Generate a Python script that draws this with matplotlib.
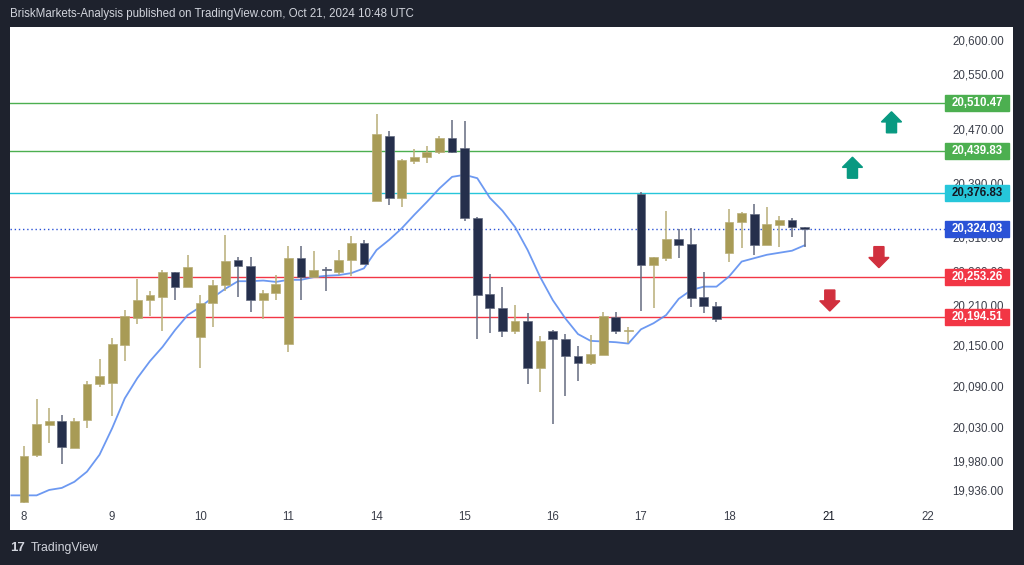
import matplotlib
matplotlib.use("Agg")
import matplotlib.pyplot as plt
import matplotlib.transforms as mtransforms
from matplotlib.patches import Rectangle, Polygon

# ── Data ──────────────────────────────────────────────────────────────────────
opens = [19921, 19990, 20035, 20041, 20001, 20042, 20095, 20097, 20153, 20192,
         20219, 20224, 20260, 20239, 20164, 20215, 20241, 20279, 20270, 20219,
         20229, 20155, 20281, 20253, 20264, 20260, 20278, 20303, 20366, 20462,
         20370, 20425, 20430, 20437, 20459, 20443, 20340, 20228, 20208, 20174,
         20188, 20119, 20173, 20162, 20137, 20127, 20138, 20194, 20173, 20376,
         20271, 20281, 20310, 20302, 20224, 20211, 20288, 20334, 20346, 20300,
         20330, 20338, 20327]
highs = [20004, 20073, 20060, 20050, 20045, 20100, 20132, 20163, 20204, 20251,
         20233, 20264, 20261, 20286, 20227, 20249, 20315, 20283, 20282, 20234,
         20256, 20299, 20299, 20291, 20268, 20293, 20314, 20308, 20494, 20468,
         20428, 20442, 20447, 20461, 20485, 20483, 20342, 20258, 20239, 20212,
         20200, 20166, 20175, 20169, 20152, 20168, 20201, 20202, 20180, 20378,
         20282, 20350, 20324, 20326, 20260, 20217, 20354, 20349, 20361, 20357,
         20343, 20341, 20327]
lows = [19920, 19988, 20009, 19977, 20001, 20030, 20091, 20048, 20129, 20184,
        20195, 20173, 20220, 20239, 20119, 20179, 20232, 20223, 20202, 20191,
        20219, 20143, 20220, 20253, 20232, 20256, 20255, 20272, 20366, 20360,
        20356, 20420, 20421, 20434, 20436, 20336, 20161, 20170, 20165, 20169,
        20095, 20084, 20036, 20077, 20100, 20123, 20138, 20169, 20156, 20203,
        20208, 20277, 20281, 20209, 20200, 20187, 20276, 20296, 20285, 20300,
        20298, 20312, 20297]
closes = [19989, 20036, 20041, 20002, 20041, 20096, 20107, 20154, 20195, 20219,
          20226, 20261, 20239, 20268, 20215, 20241, 20277, 20269, 20219, 20230,
          20243, 20281, 20253, 20264, 20264, 20279, 20304, 20272, 20464, 20370,
          20426, 20430, 20437, 20459, 20437, 20341, 20227, 20207, 20174, 20188,
          20119, 20159, 20161, 20137, 20127, 20139, 20195, 20174, 20175, 20271,
          20282, 20310, 20301, 20222, 20211, 20191, 20335, 20347, 20300, 20331,
          20338, 20327, 20324]
bearish_doji = [24]

# moving average, first point is one bar before the first candle
ma_values = [19931, 19931, 19931, 19939, 19942, 19951, 19966, 19991, 20030, 20074,
             20104, 20129, 20150, 20175, 20197, 20209, 20223, 20236, 20247, 20247,
             20248, 20246, 20249, 20249, 20253, 20255, 20256, 20259, 20266, 20293,
             20308, 20325, 20345, 20364, 20384, 20401, 20404, 20399, 20370, 20351,
             20327, 20293, 20253, 20219, 20192, 20169, 20159, 20158, 20157, 20155,
             20176, 20185, 20197, 20221, 20234, 20239, 20239, 20254, 20276, 20281,
             20286, 20289, 20292, 20300]

day_pos = [0, 7, 14, 21, 28, 35, 42, 49, 56, 63.9, 71.8]
day_labels = ["8", "9", "10", "11", "14", "15", "16", "17", "18", "21", "22"]

price_ticks = [20600, 20550, 20470, 20390, 20310, 20260, 20210, 20150,
               20090, 20030, 19980, 19936]

levels = [20510.47, 20439.83, 20376.83, 20324.03, 20253.26, 20194.51]
level_colors = ["#4caf50", "#4caf50", "#26c6da", "#2a52d6", "#f23645", "#f23645"]
level_text = ["white", "white", "#131722", "white", "white", "white"]
level_styles = ["-", "-", "-", ":", "-", "-"]

arrow_x = [68.9, 65.8, 67.9, 64.0]
arrow_tip = [20497, 20430, 20267, 20203]
arrow_up = [True, True, False, False]

# ── Style ─────────────────────────────────────────────────────────────────────
BG = "#1e222d"
GOLD = "#a89b56"
GOLD_W = "#b8ae78"
NAVY = "#252f4c"
NAVY_W = "#646b80"
MA_C = "#5d8ef0"
TXT = "#3b3f4a"
FONT = "Liberation Sans"

W, H = 1024, 565
fig = plt.figure(figsize=(W / 100, H / 100), dpi=100, facecolor=BG)
ax = fig.add_axes([10 / W, 1 - 530 / H, 1003 / W, 503 / H])
ax.set_facecolor("white")
ax.set_xlim(-1.112, 78.55)
ax.set_ylim(19879.9, 20622.1)
ax.set_xticks([])
ax.set_yticks([])
for sp in ax.spines.values():
    sp.set_visible(False)

ytrans = mtransforms.blended_transform_factory(ax.transAxes, ax.transData)
xtrans = mtransforms.blended_transform_factory(ax.transData, ax.transAxes)

# ── Level lines ───────────────────────────────────────────────────────────────
for lv, c, ls in zip(levels, level_colors, level_styles):
    ax.axhline(lv, xmin=0, xmax=0.9322, color=c, lw=1.0,
               ls=(0, (1, 2)) if ls == ":" else "-", zorder=1)

# ── Moving average ────────────────────────────────────────────────────────────
ax.plot(range(-1, len(ma_values) - 1), ma_values, color=MA_C, lw=1.3,
        alpha=0.9, zorder=2, solid_joinstyle="round")

# ── Candles ───────────────────────────────────────────────────────────────────
for i, (o, h, l, c) in enumerate(zip(opens, highs, lows, closes)):
    up = c >= o and i not in bearish_doji
    body = GOLD if up else NAVY
    wick = GOLD_W if up else NAVY_W
    ax.vlines(i, l, h, color=wick, lw=1.1, zorder=3)
    bottom = min(o, c)
    height = max(abs(c - o), 1.6)
    ax.bar(i, height, bottom=bottom, width=0.7, color=body,
           edgecolor=wick, linewidth=0.5, zorder=4)

# ── Arrows ────────────────────────────────────────────────────────────────────
hw, sw = 0.80, 0.40      # half widths (head, shaft) in bar units
hh, tot = 15.0, 31.0     # head height, total height in price units
for x, tip, up in zip(arrow_x, arrow_tip, arrow_up):
    d = -1 if up else 1
    pts = [(x, tip), (x + hw, tip + d * hh), (x + sw, tip + d * hh),
           (x + sw, tip + d * tot), (x - sw, tip + d * tot),
           (x - sw, tip + d * hh), (x - hw, tip + d * hh)]
    ax.add_patch(Polygon(pts, closed=True,
                         color="#089981" if up else "#d1303e", zorder=5))

# ── Price scale ───────────────────────────────────────────────────────────────
for v in price_ticks:
    ax.text(0.991, v, f"{v:,.2f}", transform=ytrans, ha="right", va="center",
            fontsize=8.3, color=TXT, family=FONT, zorder=6)

box_h = 16 * 1.4756
for lv, c, tc in zip(levels, level_colors, level_text):
    ax.add_patch(Rectangle((0.9322, lv - box_h / 2), 0.0638, box_h,
                           transform=ytrans, color=c, zorder=7, clip_on=False))
    ax.text(0.9641, lv, f"{lv:,.2f}", transform=ytrans, ha="center",
            va="center", fontsize=8.3, color=tc, family=FONT,
            fontweight="bold", zorder=8)

# ── Date axis ─────────────────────────────────────────────────────────────────
for p, lab in zip(day_pos, day_labels):
    ax.text(p, 0.026, lab, transform=xtrans, ha="center", va="center",
            fontsize=8.3, color="#131722" if lab == "21" else TXT,
            family=FONT, zorder=6)

# ── Header / footer ───────────────────────────────────────────────────────────
fig.text(10 / W, 1 - 14 / H,
         "BriskMarkets-Analysis published on TradingView.com, Oct 21, 2024 10:48 UTC",
         ha="left", va="center", fontsize=8.3, color="#d1d4dc", family=FONT)
fig.text(10 / W, 1 - 548 / H, "17", ha="left", va="center", fontsize=9.5,
         color="#d1d4dc", family=FONT, fontweight="bold")
fig.text(31 / W, 1 - 548 / H, "TradingView", ha="left", va="center",
         fontsize=8.8, color="#d1d4dc", family=FONT)

fig.savefig("out.png", dpi=100, facecolor=BG)
